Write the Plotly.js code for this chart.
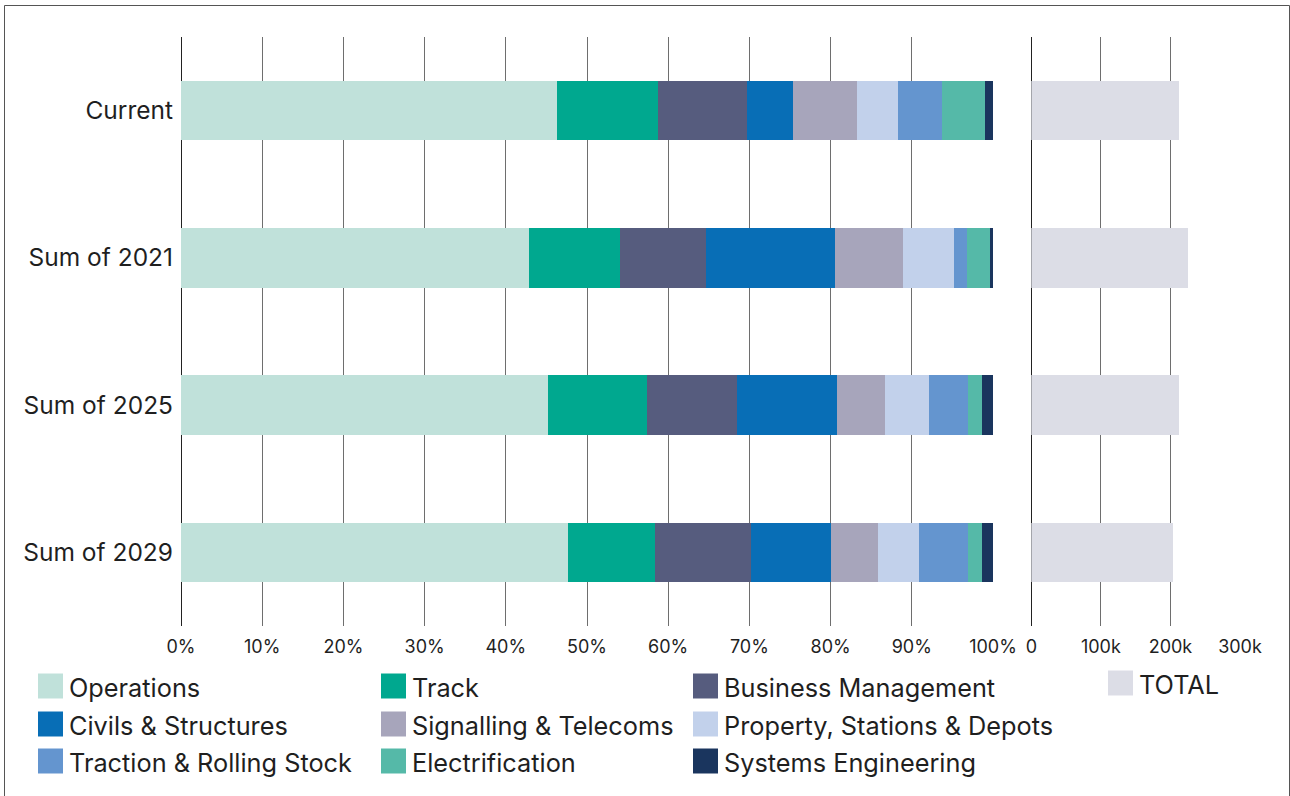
<!DOCTYPE html>
<html>
<head>
<meta charset="utf-8">
<script src="https://cdn.plot.ly/plotly-3.0.1.min.js"></script>
<style>
  html, body { margin: 0; padding: 0; background: #ffffff; }
  #chart { width: 1290px; height: 796px; }
</style>
</head>
<body>
<div id="chart"></div>
<script>
// ---- Data (percent share of each category per period) ----
const categories = ['Current', 'Sum of 2021', 'Sum of 2025', 'Sum of 2029'];

const operations     = [46.3, 42.9, 45.2, 47.7];
const track          = [12.5, 11.2, 12.2, 10.7];
const businessMgmt   = [10.9, 10.6, 11.1, 11.8];
const civils         = [5.7, 15.9, 12.3, 9.8];
const signalling     = [7.9, 8.3, 5.9, 5.8];
const property       = [5.0, 6.3, 5.4, 5.1];
const traction       = [5.4, 1.6, 4.8, 6.0];
const electrification= [5.3, 2.8, 1.7, 1.7];
const systemsEng     = [1.0, 0.4, 1.4, 1.4];

const totals = [212000, 225000, 212000, 203000];

const seriesNames = ['Operations', 'Track', 'Business Management',
  'Civils & Structures', 'Signalling & Telecoms', 'Property, Stations & Depots',
  'Traction & Rolling Stock', 'Electrification', 'Systems Engineering'];
const seriesValues = [operations, track, businessMgmt, civils, signalling,
  property, traction, electrification, systemsEng];
const seriesColors = ['#c0e1da', '#00a88f', '#565c7e', '#086eb6', '#a7a5bb',
  '#c2d1eb', '#6495cf', '#55b9a8', '#1a355e'];
const totalName = 'TOTAL';
const totalColor = '#dcdde6';

const pctTicks = [0, 10, 20, 30, 40, 50, 60, 70, 80, 90, 100];
const pctTickText = ['0%', '10%', '20%', '30%', '40%', '50%', '60%', '70%', '80%', '90%', '100%'];
const totalTicks = [0, 100000, 200000, 300000];
const totalTickText = ['0', '100k', '200k', '300k'];

// ---- Layout helpers ----
const W = 1290, H = 796;
const FONT = 'Inter, "Open Sans", sans-serif';
const TEXT = '#1f1f1f';
const GRID = '#6e6e6e';

const traces = seriesNames.map((name, i) => ({
  type: 'bar', orientation: 'h',
  y: categories, x: seriesValues[i], name: name,
  marker: { color: seriesColors[i], line: { width: 0 } },
  xaxis: 'x', yaxis: 'y', showlegend: false,
  hovertemplate: '%{y}: %{x}%<extra>' + name + '</extra>'
}));
traces.push({
  type: 'bar', orientation: 'h',
  y: categories, x: totals, name: totalName,
  marker: { color: totalColor, line: { width: 0 } },
  xaxis: 'x2', yaxis: 'y', showlegend: false
});

// manual legend (swatches + labels) built from names/colors
const shapes = [];
const annotations = [];
const colX = [38, 381, 693];
const rowY = [686, 724, 761];
function addLegendItem(px, py, name, color) {
  shapes.push({ type: 'rect', xref: 'paper', yref: 'paper',
    x0: px / W, x1: (px + 25) / W, y0: 1 - (py + 12.5) / H, y1: 1 - (py - 12.5) / H,
    fillcolor: color, line: { width: 0 } });
  annotations.push({ xref: 'paper', yref: 'paper', x: (px + 29) / W, y: 1 - (py + 1) / H,
    xanchor: 'left', yanchor: 'middle', showarrow: false, text: name,
    font: { family: FONT, size: 25.3, color: TEXT } });
}
seriesNames.forEach((n, i) => addLegendItem(colX[i % 3], rowY[Math.floor(i / 3)], n, seriesColors[i]));
addLegendItem(1108, 683, totalName, totalColor);

// outer frame
shapes.push({ type: 'rect', xref: 'paper', yref: 'paper',
  x0: 4.5 / W, x1: 1289.5 / W, y0: -0.02, y1: 1 - 5.5 / H,
  line: { color: '#555', width: 1 }, fillcolor: 'rgba(0,0,0,0)', layer: 'below' });

const layout = {
  width: W, height: H,
  margin: { l: 0, r: 0, t: 0, b: 0 },
  paper_bgcolor: '#ffffff', plot_bgcolor: '#ffffff',
  barmode: 'stack', bargap: 0.595,
  showlegend: false,
  font: { family: FONT, color: TEXT },
  xaxis: {
    domain: [181 / W, 993 / W], range: [0, 100], anchor: 'y',
    tickmode: 'array', tickvals: pctTicks, ticktext: pctTickText, ticks: '',
    showgrid: true, gridcolor: GRID, gridwidth: 1,
    zeroline: true, zerolinecolor: '#222', zerolinewidth: 1,
    showline: false, automargin: false, fixedrange: true,
    tickfont: { family: FONT, size: 18, color: TEXT }, ticklabelstandoff: 8
  },
  xaxis2: {
    domain: [1031.3 / W, 1240 / W], range: [0, 300000], anchor: 'y',
    tickmode: 'array', tickvals: totalTicks, ticktext: totalTickText, ticks: '',
    showgrid: true, gridcolor: GRID, gridwidth: 1,
    zeroline: true, zerolinecolor: '#222', zerolinewidth: 1,
    showline: false, automargin: false, fixedrange: true,
    tickfont: { family: FONT, size: 18, color: TEXT }, ticklabelstandoff: 8
  },
  yaxis: {
    domain: [1 - 626 / H, 1 - 37 / H], type: 'category',
    categoryorder: 'array', categoryarray: categories,
    range: [3.5, -0.5], showgrid: false, zeroline: false, showline: false,
    ticks: '', automargin: false, fixedrange: true,
    tickfont: { family: FONT, size: 24.5, color: TEXT }, ticklabelstandoff: 7
  },
  shapes: shapes,
  annotations: annotations
};

Plotly.newPlot('chart', traces, layout, { displayModeBar: false, staticPlot: true });
</script>
</body>
</html>
